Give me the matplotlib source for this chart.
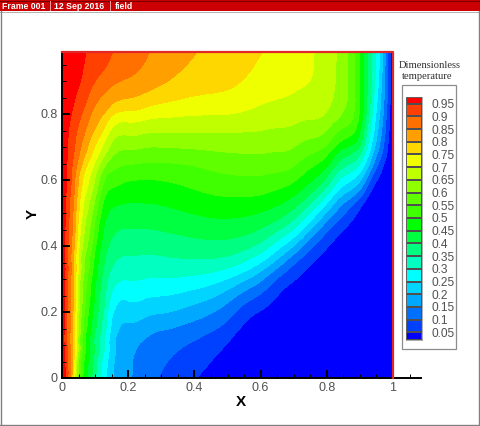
import numpy as np
import matplotlib
matplotlib.use("Agg")
import matplotlib.pyplot as plt
from matplotlib.colors import ListedColormap, BoundaryNorm
from matplotlib.lines import Line2D
from matplotlib.patches import Rectangle
from matplotlib.ticker import MultipleLocator, FixedLocator, FuncFormatter
import matplotlib.tri as mtri

W, H = 480, 426
x_cols = [0, .01, .02, .03, .05, .075, .1, .125, .15, .2, .25, .3, .4, .5, .55, .6, .65, .7, .75, .8, .85, .9, .93, .96, .98, 1]
y_rows = [0, .05, .1, .15, .2, .25, .3, .35, .4, .45, .5, .55, .6, .65, .7, .75, .8, .85, .9, .95, .988]
T_rows = [
 [1,.94,.88,.79,.555,.445,.35,.267,.21,.15,.125,.10,.05,.015,0,0,0,0,0,0,0,0,0,0,0,0],
 [1,.935,.875,.81,.61,.455,.37,.285,.215,.15,.125,.11,.07,.02,.005,0,0,0,0,0,0,0,0,0,0,0],
 [1,.93,.87,.82,.64,.47,.39,.31,.222,.15,.135,.12,.092,.04,.015,0,0,0,0,0,0,0,0,0,0,0],
 [1,.93,.875,.82,.65,.485,.405,.335,.232,.185,.168,.152,.13,.075,.035,.015,.005,0,0,0,0,0,0,0,0,0],
 [1,.93,.875,.82,.66,.51,.425,.35,.25,.22,.215,.21,.18,.119,.07,.04,.02,0,0,0,0,0,0,0,0,0],
 [1,.935,.88,.825,.675,.53,.44,.37,.285,.26,.26,.252,.232,.168,.125,.095,.047,.02,.005,0,0,0,0,0,0,0],
 [1,.935,.88,.825,.68,.545,.46,.38,.325,.3,.30,.3,.295,.245,.21,.155,.08,.05,.025,0,0,0,0,0,0,0],
 [1,.935,.885,.835,.69,.575,.48,.40,.36,.332,.335,.335,.347,.332,.305,.257,.185,.09,.05,.02,0,0,0,0,0,0],
 [1,.94,.89,.845,.71,.605,.505,.425,.385,.363,.365,.368,.384,.388,.37,.347,.27,.205,.095,.05,.01,0,0,0,0,0],
 [1,.945,.90,.855,.735,.62,.54,.44,.41,.394,.398,.4,.421,.424,.418,.403,.368,.305,.2,.095,.045,.005,0,0,0,0],
 [1,.95,.908,.865,.755,.65,.57,.465,.437,.428,.432,.432,.454,.466,.46,.447,.43,.393,.3,.19,.1,.03,.002,0,0,0],
 [1,.955,.915,.877,.775,.68,.614,.50,.47,.46,.462,.463,.487,.503,.50,.5,.48,.452,.4,.29,.18,.1,.03,.01,0,0],
 [1,.96,.925,.888,.795,.705,.65,.54,.52,.496,.496,.495,.519,.54,.54,.542,.53,.515,.46,.4,.27,.21,.1,.03,.01,0],
 [1,.965,.935,.905,.84,.75,.70,.615,.575,.55,.546,.543,.549,.577,.578,.579,.575,.566,.515,.475,.365,.3,.2,.085,.03,0],
 [1,.97,.94,.92,.87,.815,.74,.70,.63,.606,.602,.599,.608,.613,.614,.616,.611,.605,.575,.555,.455,.4,.27,.15,.07,0],
 [1,.974,.948,.928,.89,.84,.8,.75,.68,.66,.658,.656,.655,.655,.653,.65,.645,.64,.625,.605,.545,.455,.31,.175,.085,0],
 [1,.983,.966,.948,.915,.875,.825,.81,.757,.735,.725,.712,.703,.703,.695,.685,.675,.67,.665,.66,.615,.5,.34,.2,.1,0],
 [1,.988,.976,.964,.94,.91,.86,.844,.83,.808,.79,.775,.745,.745,.73,.71,.705,.69,.685,.67,.635,.5,.36,.215,.115,0],
 [1,.99,.983,.975,.958,.93,.902,.878,.86,.848,.83,.815,.775,.76,.75,.735,.728,.72,.705,.675,.635,.49,.37,.23,.12,0],
 [1,.99,.985,.978,.963,.945,.93,.915,.898,.87,.85,.83,.795,.77,.762,.745,.735,.723,.705,.68,.635,.495,.375,.245,.125,0],
 [1,.99,.985,.98,.965,.948,.933,.918,.903,.878,.857,.835,.80,.776,.764,.752,.738,.723,.705,.683,.635,.5,.375,.25,.125,0],
]
level_values = [.05, .1, .15, .2, .25, .3, .35, .4, .45, .5, .55, .6, .65, .7, .75, .8, .85, .9, .95]
level_labels = ["0.05", "0.1", "0.15", "0.2", "0.25", "0.3", "0.35", "0.4", "0.45", "0.5",
                "0.55", "0.6", "0.65", "0.7", "0.75", "0.8", "0.85", "0.9", "0.95"]
band_colors = ["#0000ff", "#0040ff", "#0070ff", "#00a8ff", "#00d4ff", "#00ffff", "#00ffc0",
               "#00ff80", "#00ff40", "#00ff00", "#40ff00", "#60ff00", "#90ff00", "#c0ff00",
               "#f0ff00", "#ffd700", "#ffa000", "#ff7000", "#ff4000", "#ff0000"]
x_ticks = [0, .2, .4, .6, .8, 1]
y_ticks = [0, .2, .4, .6, .8]
title_lines = ["Dimensionless", "temperature"]
header_parts = ["Frame 001", "12 Sep 2016", "field"]

plt.rcParams["font.family"] = ["Liberation Sans", "DejaVu Sans"]
fig = plt.figure(figsize=(W / 100, H / 100), dpi=100, facecolor="white")

def px_axes(x0, x1, ytop, ybot):
    return [x0 / W, 1 - ybot / H, (x1 - x0) / W, (ybot - ytop) / H]

ax = fig.add_axes(px_axes(62, 421, 52, 378))
ax.patch.set_alpha(0)
XX, YY = np.meshgrid(x_cols, y_rows)
Z = np.array(T_rows, dtype=float)
# soften hand-reading noise between neighbouring rows and columns
Zs = Z.copy()
Zs[1:-1] = .2 * Z[:-2] + .6 * Z[1:-1] + .2 * Z[2:]
Zx = Zs.copy()
Zx[:, 5:21] = .15 * Zs[:, 4:20] + .7 * Zs[:, 5:21] + .15 * Zs[:, 6:22]
tri = mtri.Triangulation(XX.ravel(), YY.ravel())
interp = mtri.CubicTriInterpolator(tri, Zx.ravel(), kind="min_E")
refiner = mtri.UniformTriRefiner(tri)
tri_f, z_f = refiner.refine_field(Zx.ravel(), triinterpolator=interp, subdiv=3)
levels = [-5] + level_values + [5]
cmap = ListedColormap(band_colors)
norm = BoundaryNorm(levels, cmap.N)
ax.tricontourf(tri_f, z_f, levels=levels, cmap=cmap, norm=norm, antialiased=False)
ax.set_xlim(0, (421 - 62) / 331)
ax.set_ylim(0, 326 / 330)
for s in ("top", "right"):
    ax.spines[s].set_visible(False)
for s in ("left", "bottom"):
    ax.spines[s].set_linewidth(1.4)
ax.plot([0, 1, 1], [326 / 330, 326 / 330, 0], color="#e02828", lw=1.6, clip_on=False, zorder=5)
ax.xaxis.set_major_locator(FixedLocator(x_ticks))
ax.yaxis.set_major_locator(FixedLocator(y_ticks))
ax.xaxis.set_minor_locator(MultipleLocator(.05))
ax.yaxis.set_minor_locator(MultipleLocator(.05))
fmt = FuncFormatter(lambda v, p: f"{v:g}")
ax.xaxis.set_major_formatter(fmt)
ax.yaxis.set_major_formatter(fmt)
ax.tick_params(which="major", direction="in", length=6, width=1.4, color="black",
               labelsize=9, labelcolor="#505050", pad=3)
ax.tick_params(which="minor", direction="in", length=3, width=.7, color="black")
ax.set_xlabel("X", fontsize=11, fontweight="bold")
ax.set_ylabel("Y", fontsize=11, fontweight="bold")
ax.xaxis.set_label_coords((241 - 62) / 359, -(395 - 378) / 326)
ax.yaxis.set_label_coords((40 - 62) / 359, (378 - 214) / 326)

# legend frame and colour key
fig.add_artist(Rectangle((402 / W, 1 - 349 / H), 54 / W, 264 / H, transform=fig.transFigure,
                         fc="white", ec="#8c8c8c", lw=.9, zorder=-1))
top = .95 + 6.7 / 12.7 * .05
bottom = .05 - 7.7 / 12.7 * .05
cax = fig.add_axes(px_axes(406, 422, 97, 340))
bounds = [bottom] + level_values + [top]
cax.pcolormesh([0, 1], bounds, np.arange(len(band_colors)).reshape(-1, 1), cmap=cmap,
               edgecolors="#505050", linewidth=.35)
cax.set_ylim(bottom, top)
cax.set_xticks([])
cax.yaxis.tick_right()
cax.set_yticks(level_values, level_labels)
cax.tick_params(axis="y", length=0, pad=6.5, labelsize=8.6, labelcolor="#505050")
for s in cax.spines.values():
    s.set_linewidth(.4)
    s.set_color("#707070")

fig.text(430 / W, 1 - 66 / H, title_lines[0], ha="center", va="center", fontsize=7.6,
         family="Liberation Serif", color="#303030")
fig.text(427 / W, 1 - 76.5 / H, title_lines[1], ha="center", va="center", fontsize=7.6,
         family="Liberation Serif", color="#303030")

# header bar and outer frame
fig.add_artist(Rectangle((0, 1 - 11 / H), 1, 11 / H, transform=fig.transFigure, fc="#cc0000", ec="none"))
fig.add_artist(Line2D([0, 1], [1 - .5 / H] * 2, color="#7a0000", lw=.8))
fig.add_artist(Line2D([0, 1], [1 - 11.5 / H] * 2, color="#b0b0b0", lw=.7))
for xp in (49.5, 110):
    fig.add_artist(Line2D([xp / W] * 2, [1 - 1 / H, 1 - 10 / H], color="#f0a0a0", lw=.7))
for xp, part in zip((2, 54, 115), header_parts):
    fig.text(xp / W, 1 - 6.5 / H, part, ha="left", va="center", color="white",
             fontsize=6.3, fontweight="bold")
fig.add_artist(Line2D([.8 / W] * 2, [1 - 11 / H, 1 - 424.5 / H], color="#808080", lw=1))
fig.add_artist(Line2D([478.5 / W] * 2, [1 - 11 / H, 1 - 424.5 / H], color="#808080", lw=1))
fig.add_artist(Line2D([0, 479 / W], [1 - 424.5 / H] * 2, color="#808080", lw=1))

fig.savefig("out.png", dpi=100)
